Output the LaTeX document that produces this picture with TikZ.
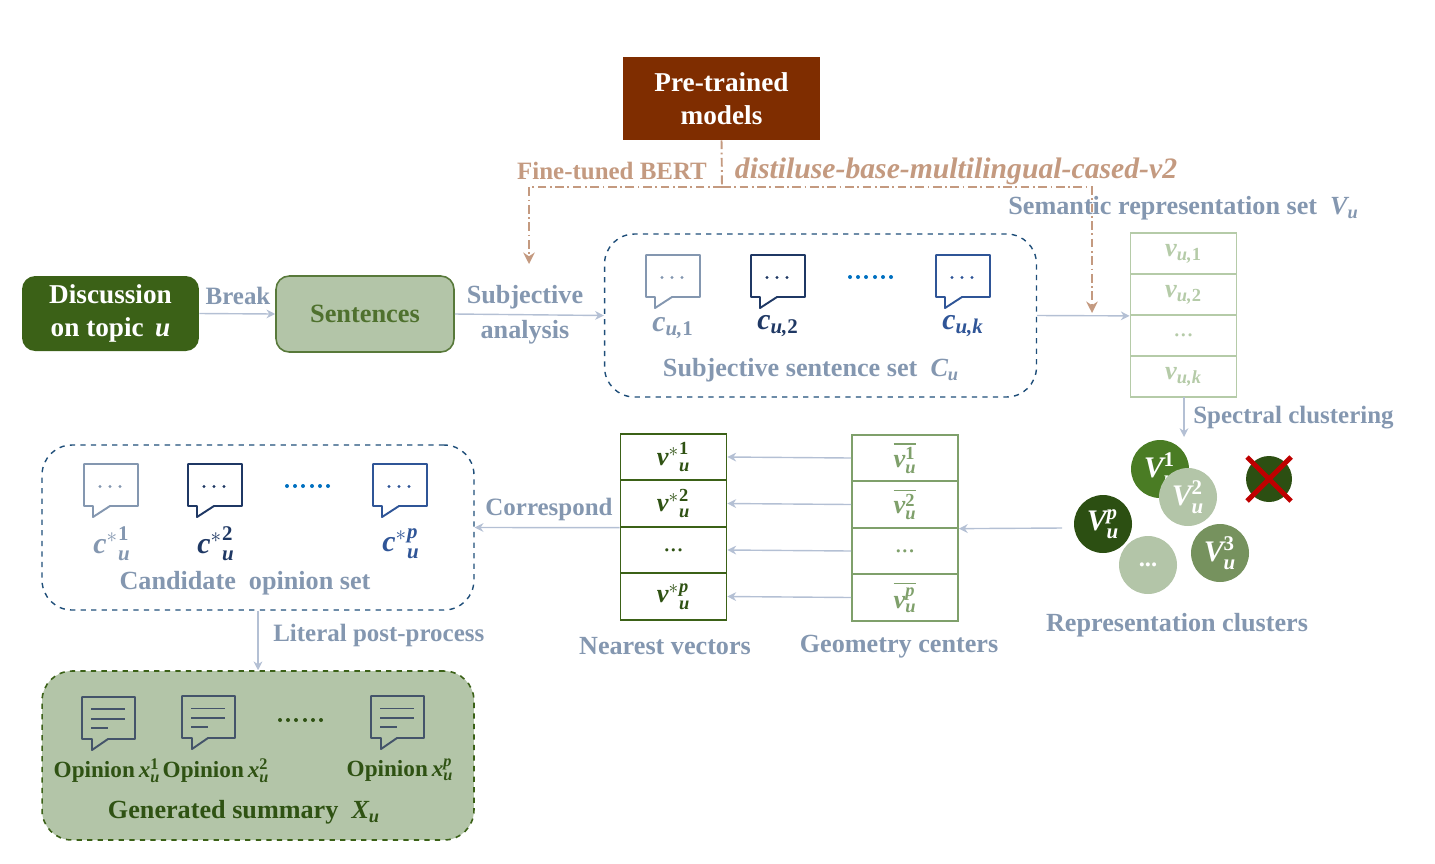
\documentclass[tikz,border=0pt]{standalone}
\usepackage{amsmath}
\usepackage{amssymb}
\usepackage{fontspec}
\setmainfont{Liberation Serif}
\usetikzlibrary{arrows.meta}
\usetikzlibrary{calc,positioning}

\definecolor{slate}{HTML}{8497B0}
\definecolor{flowline}{HTML}{B4C0D4}
\definecolor{tan}{HTML}{C49A80}
\definecolor{rust}{HTML}{7F2D00}
\definecolor{leaf}{HTML}{3B6117}
\definecolor{deepleaf}{HTML}{2F5213}
\definecolor{sage}{HTML}{B3C5A8}
\definecolor{moss}{HTML}{76925E}
\definecolor{fern}{HTML}{4A7C24}
\definecolor{pine}{HTML}{2C4F12}
\definecolor{paleleaf}{HTML}{B5CBA8}
\definecolor{midleaf}{HTML}{7FA06B}
\definecolor{navy}{HTML}{1F3864}
\definecolor{royal}{HTML}{2F5597}
\definecolor{dotblue}{HTML}{0070C0}
\definecolor{frameblue}{HTML}{1F4E79}
\definecolor{inkgrey}{HTML}{44546A}

\newcommand{\mv}[1]{\text{\bfseries\itshape #1}}
\newcommand{\mn}[1]{\text{\bfseries #1}}

\tikzset{
    flow/.style={draw=flowline, line width=0.8pt, ->},
    pretrain/.style={draw=tan, line width=1.1pt, dash pattern=on 5pt off 2pt on 1pt off 2pt},
    caption/.style={text=slate, font=\bfseries\fontsize{14.9}{17}\selectfont, inner sep=0pt},
    smallcaption/.style={caption, font=\bfseries\fontsize{14.2}{17}\selectfont},
    symbollabel/.style={caption, font=\bfseries\fontsize{17}{19}\selectfont},
    opinionlabel/.style={caption, text=deepleaf, font=\bfseries\fontsize{13.2}{15}\selectfont},
    cell/.style={draw, line width=1pt, minimum width=2.12cm, inner sep=0pt, font=\bfseries\fontsize{15}{17}\selectfont},
    cluster/.style={circle, minimum size=1.16cm, inner sep=0pt, text=white, font=\bfseries\fontsize{17}{19}\selectfont},
    pics/chatbubble/.style={code={
        \draw[#1, line width=1.1pt, line join=round] (0,0) -- (54,0) -- (54,42) -- (26,42) -- (9,53) -- (9,42) -- (0,42) -- cycle;
        \foreach \i in {16,26,36} \fill[#1] (\i,22.5) circle (1.6);
    }},
    pics/docbubble/.style={code={
        \draw[inkgrey, line width=1.1pt, line join=round] (0,0) -- (53,0) -- (53,42) -- (26,42) -- (10,53) -- (10,42) -- (0,42) -- cycle;
        \draw[inkgrey, line width=#1] (9,12) -- (43,12);
        \draw[inkgrey, line width=1.2pt] (9,22) -- (43,22);
        \draw[inkgrey, line width=1.2pt] (9,31) -- (26,31);
    }},
    pics/dotrow/.style={code={
        \foreach \i in {0,8,16,25,33,41} \fill[#1] (\i,0) circle (2);
    }}
}

\begin{document}
\begin{tikzpicture}[>={Stealth[length=5pt,width=5pt]}, x=0.02cm, y=-0.02cm]
    \useasboundingbox (0,0) rectangle (1435,863);

    \node[fill=rust, text=white, minimum width=3.94cm, minimum height=1.66cm, align=center, inner sep=0pt, font=\bfseries\fontsize{15.5}{18.5}\selectfont] (models) at (721.5,98.5) {Pre-trained\\models};
    \node[fill=leaf, rounded corners=7.5pt, text=white, minimum width=3.54cm, minimum height=1.5cm, align=center, inner sep=0pt, font=\bfseries\fontsize{15.5}{18.5}\selectfont] (discussion) at (110.5,313.5) {Discussion\\on topic \,$\mv{u}$};
    \node[draw=leaf!85!white, fill=sage, line width=0.9pt, rounded corners=7.5pt, text=leaf!90!white, minimum width=3.56cm, minimum height=1.52cm, inner sep=0pt, font=\bfseries\fontsize{15}{17}\selectfont] (sentences) at (365,314) {Sentences};
    \node[draw=frameblue, dashed, line width=0.8pt, rounded corners=17pt, minimum width=8.64cm, minimum height=3.26cm, inner sep=0pt] (subjset) at (820.5,315.5) {};
    \node[draw=frameblue, dashed, line width=0.8pt, rounded corners=17pt, minimum width=8.64cm, minimum height=3.3cm, inner sep=0pt] (candset) at (258,527.5) {};
    \node[draw=leaf, fill=sage, dashed, line width=0.9pt, rounded corners=17pt, minimum width=8.64cm, minimum height=3.38cm, inner sep=0pt] (summary) at (258,755.5) {};

    % subjective sentences
    \pic at (646,255) {chatbubble=slate};
    \pic at (751,255) {chatbubble=navy};
    \pic at (936,255) {chatbubble=royal};
    \pic at (850,277) {dotrow=dotblue};
    \node[symbollabel] (c1) at (673,328) {$\mv{c}_{\mv{u,}\mn{1}}$};
    \node[symbollabel, text=navy] (c2) at (778,326) {$\mv{c}_{\mv{u,}\mn{2}}$};
    \node[symbollabel, text=royal] (ck) at (963,326) {$\mv{c}_{\mv{u,k}}$};
    \node[caption] (subjname) at (811,370) {Subjective sentence set \ $\mv{C}_{\mv{u}}$};

    % semantic representation table
    \foreach \name/\y/\txt in {v1/253.5/{$\mv{v}_{\mv{u,}\mn{1}}$}, v2/294.5/{$\mv{v}_{\mv{u,}\mn{2}}$}, v3/335.5/{\mdseries ...}, v4/376.5/{$\mv{v}_{\mv{u,k}}$}}
        \node[cell, draw=paleleaf, text=paleleaf, minimum height=0.82cm] (\name) at (1183.5,\y) {\txt};

    % geometry centers
    \foreach \name/\y/\txt in {g1/458/{$\overline{\mv{v}^{\mn{1}}_{\mv{u}}}$}, g2/504.5/{$\overline{\mv{v}^{\mn{2}}_{\mv{u}}}$}, g3/551/{\mdseries ...}, g4/597.5/{$\overline{\mv{v}^{\mv{p}}_{\mv{u}}}$}}
        \node[cell, draw=midleaf, text=midleaf, minimum height=0.93cm] (\name) at (905,\y) {\txt};

    % nearest vectors
    \foreach \name/\y/\txt in {n1/457/{${\mv{v}^{*}}^{\mn{1}}_{\mv{u}}$}, n2/503.5/{${\mv{v}^{*}}^{\mn{2}}_{\mv{u}}$}, n3/550/{\mdseries ...}, n4/596.5/{${\mv{v}^{*}}^{\mv{p}}_{\mv{u}}$}}
        \node[cell, draw=leaf, text=deepleaf, minimum height=0.93cm] (\name) at (673.5,\y) {\txt};

    % clusters
    \node[cluster, fill=fern] (cl1) at (1160,469) {$\mv{V}^{\mn{1}}_{\mv{u}}$};
    \node[cluster, fill=sage] (cl2) at (1188,497) {$\mv{V}^{\mn{2}}_{\mv{u}}$};
    \node[cluster, fill=moss] (cl3) at (1220,553) {$\mv{V}^{\mn{3}}_{\mv{u}}$};
    \node[cluster, fill=pine] (clp) at (1103,524) {$\mv{V}^{\mv{p}}_{\mv{u}}$};
    \node[cluster, fill=sage, font=\bfseries\fontsize{14}{17}\selectfont] (clm) at (1148,565) {...};
    \node[cluster, fill=pine, minimum size=0.92cm] (removed) at (1269,479) {};
    \draw[red!75!black, line width=2.8pt] (removed.center) ++(-22,-22) -- ++(44,44);
    \draw[red!75!black, line width=2.8pt] (removed.center) ++(22,-22) -- ++(-44,44);

    % candidate opinions
    \pic at (84,464) {chatbubble=slate};
    \pic at (188,464) {chatbubble=navy};
    \pic at (373,464) {chatbubble=royal};
    \pic at (287,486) {dotrow=dotblue};
    \node[symbollabel] (o1) at (112,544) {${\mv{c}^{*}}^{\mn{1}}_{\mv{u}}$};
    \node[symbollabel, text=navy] (o2) at (216,544) {${\mv{c}^{*}}^{\mn{2}}_{\mv{u}}$};
    \node[symbollabel, text=royal] (op) at (401,544) {${\mv{c}^{*}}^{\mv{p}}_{\mv{u}}$};
    \node[caption] (candname) at (245,583) {Candidate \ opinion set};

    % generated summary
    \pic at (82,697) {docbubble=1.2pt};
    \pic at (182,696) {docbubble=0.5pt};
    \pic at (371,696) {docbubble=0.5pt};
    \pic at (280,720) {dotrow=deepleaf};
    \node[opinionlabel] (x1) at (107,771) {Opinion\,$\mv{x}^{\mn{1}}_{\mv{u}}$};
    \node[opinionlabel] (x2) at (216,771) {Opinion\,$\mv{x}^{\mn{2}}_{\mv{u}}$};
    \node[opinionlabel] (xp) at (400,770) {Opinion\,$\mv{x}^{\mv{p}}_{\mv{u}}$};
    \node[caption, text=deepleaf] (sumname) at (244,812) {Generated summary \ $\mv{X}_{\mv{u}}$};

    % other captions
    \node[smallcaption] (break) at (238,296) {Break};
    \node[caption] (subjective) at (525,297) {Subjective};
    \node[caption] (analysis) at (525,332) {analysis};
    \node[smallcaption, text=tan] (bert) at (612,171) {Fine-tuned BERT};
    \node[caption, text=tan, font=\bfseries\itshape\fontsize{16.9}{19}\selectfont] (distil) at (956,171) {distiluse-base-multilingual-cased-v2};
    \node[caption, anchor=west] (semantic) at (1008,208) {Semantic representation set \ $\mv{V}_{\mv{u}}$};
    \node[smallcaption, anchor=west] (spectral) at (1193,418) {Spectral clustering};
    \node[caption] (repr) at (1177,625) {Representation clusters};
    \node[caption] (geom) at (899,647) {Geometry centers};
    \node[caption] (nearest) at (665,646) {Nearest vectors};
    \node[smallcaption] (correspond) at (549,509) {Correspond};
    \node[smallcaption, anchor=west] (literal) at (273,635) {Literal post-process};

    % pretrained model links
    \coordinate (split) at (722,187);
    \coordinate (bertturn) at (529,187);
    \coordinate (distilturn) at (1092,187);
    \coordinate (bertend) at (529,264);
    \coordinate (distilend) at (1092,313);
    \draw[pretrain] (models.south) -- (split);
    \draw[pretrain, ->, >={Stealth[length=6.5pt,width=6.5pt]}] (split) -- (bertturn) -- (bertend);
    \draw[pretrain, ->, >={Stealth[length=6.5pt,width=6.5pt]}] (split) -- (distilturn) -- (distilend);

    % main flow
    \coordinate (vbottom) at (1184,397);
    \coordinate (clustertop) at (1184,437);
    \coordinate (clusterleft) at (1062,528);
    \draw[flow] (discussion.east) -- (sentences.west);
    \draw[flow] (sentences.east) -- (subjset.west);
    \draw[flow] (subjset.east) -- (v2.south west);
    \draw[flow] (vbottom) -- (clustertop);
    \draw[flow] (clusterleft) -- (g2.south east);
    \draw[flow] (g1.west) -- (n1.east);
    \draw[flow] (g2.west) -- (n2.east);
    \draw[flow] (g3.west) -- (n3.east);
    \draw[flow] (g4.west) -- (n4.east);
    \draw[flow] (n2.south west) -- (candset.east);
    \draw[flow] (candset.south) -- (summary.north);
\end{tikzpicture}
\end{document}
